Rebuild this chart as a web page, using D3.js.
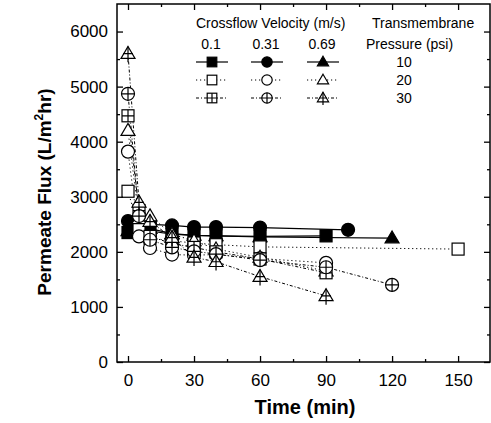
<!DOCTYPE html>
<html lang="en">
    <head>
        <meta charset="utf-8">
        <style>
            body { margin: 0; background: #fff; }
            svg text { font-family: "Liberation Sans", Arial, sans-serif; fill: #000; }
            .tick text { font-size: 17px; }
            .title { font-size: 20px; font-weight: bold; }
            .leg { font-size: 14px; }
        </style>
        <script src="https://d3js.org/d3.v7.min.js"></script>
    </head>
    <body>
        <svg width="491" height="423"></svg>
        <script>
            // Data (time in min, flux in L/m2hr)
            var velocities = ["0.1", "0.31", "0.69"];
            var pressures = ["10", "20", "30"];
            var xTicks = [0, 30, 60, 90, 120, 150];
            var yTicks = [0, 1000, 2000, 3000, 4000, 5000, 6000];

            var tSq10 = [0, 5, 10, 20, 30, 40, 60, 90];
            var vSq10 = [2350, 2400, 2380, 2320, 2300, 2290, 2280, 2290];
            var tCi10 = [0, 5, 10, 20, 30, 40, 60, 100];
            var vCi10 = [2560, 2520, 2500, 2480, 2450, 2450, 2440, 2400];
            var tTr10 = [0, 5, 10, 20, 30, 40, 60, 120];
            var vTr10 = [2380, 2420, 2420, 2330, 2300, 2290, 2270, 2250];

            var tSq20 = [0, 5, 10, 20, 30, 40, 60, 150];
            var vSq20 = [3100, 2420, 2250, 2200, 2160, 2130, 2090, 2050];
            var tCi20 = [0, 5, 10, 20, 30, 40, 60, 90];
            var vCi20 = [3820, 2280, 2070, 1950, 1940, 1950, 1880, 1800];
            var tTr20 = [0, 5, 10, 20, 30, 40, 60, 90];
            var vTr20 = [4200, 2600, 2650, 2320, 2200, 2050, 1900, 1650];

            var tSq30 = [0, 5, 10, 20, 30, 40, 60, 90];
            var vSq30 = [4470, 2750, 2280, 2150, 2080, 2000, 1870, 1620];
            var tCi30 = [0, 5, 10, 20, 30, 40, 60, 90, 120];
            var vCi30 = [4870, 2650, 2220, 2080, 2010, 1960, 1850, 1720, 1400];
            var tTr30 = [0, 5, 10, 20, 30, 40, 60, 90];
            var vTr30 = [5600, 2900, 2550, 2260, 1900, 1820, 1550, 1200];

            var series = [
                {shape: "square", p: 0, t: tSq10, v: vSq10},
                {shape: "circle", p: 0, t: tCi10, v: vCi10},
                {shape: "triangle", p: 0, t: tTr10, v: vTr10},
                {shape: "square", p: 1, t: tSq20, v: vSq20},
                {shape: "circle", p: 1, t: tCi20, v: vCi20},
                {shape: "triangle", p: 1, t: tTr20, v: vTr20},
                {shape: "square", p: 2, t: tSq30, v: vSq30},
                {shape: "circle", p: 2, t: tCi30, v: vCi30},
                {shape: "triangle", p: 2, t: tTr30, v: vTr30}
            ];

            var svg = d3.select("svg");
            var pLeft = 117, pRight = 490, pTop = 4, pBottom = 362;

            var x = d3.scaleLinear().domain([-5, 164.5]).range([pLeft, pRight]);
            var y = d3.scaleLinear().domain([0, 6500]).range([pBottom, pTop]);

            var dashes = [null, "1.2,2.8", "3,2,1,2"];

            // lines
            var line = d3.line().x(function(d) { return x(d[0]); }).y(function(d) { return y(d[1]); });
            series.forEach(function(s) {
                svg.append("path")
                    .datum(s.t.map(function(t, i) { return [t, s.v[i]]; }))
                    .attr("d", line)
                    .attr("fill", "none")
                    .attr("stroke", "#000")
                    .attr("stroke-width", s.p == 0 ? 1.2 : 1)
                    .attr("stroke-dasharray", dashes[s.p]);
            });

            // markers
            function marker(g, shape, p, cx, cy, k) {
                k = k || 1;
                var fill = p == 0 ? "#000" : "#fff";
                var r;
                if (shape == "square") {
                    r = 6 * k;
                    g.append("rect").attr("x", cx - r).attr("y", cy - r).attr("width", 2 * r).attr("height", 2 * r)
                        .attr("fill", fill).attr("stroke", "#000").attr("stroke-width", 1.2);
                    if (p == 2) {
                        g.append("path").attr("d", "M" + (cx - r) + "," + cy + "H" + (cx + r) + "M" + cx + "," + (cy - r) + "V" + (cy + r))
                            .attr("stroke", "#000").attr("stroke-width", 1.2);
                    }
                } else if (shape == "circle") {
                    r = 6.5 * k;
                    g.append("circle").attr("cx", cx).attr("cy", cy).attr("r", r)
                        .attr("fill", fill).attr("stroke", "#000").attr("stroke-width", 1.2);
                    if (p == 2) {
                        g.append("path").attr("d", "M" + (cx - r) + "," + cy + "H" + (cx + r) + "M" + cx + "," + (cy - r) + "V" + (cy + r))
                            .attr("stroke", "#000").attr("stroke-width", 1.2);
                    }
                } else {
                    r = 7 * k;
                    var h = r * 1.7;
                    g.append("path")
                        .attr("d", "M" + cx + "," + (cy - h * 0.6) + "L" + (cx + r) + "," + (cy + h * 0.4) + "L" + (cx - r) + "," + (cy + h * 0.4) + "Z")
                        .attr("fill", fill).attr("stroke", "#000").attr("stroke-width", 1.2);
                    if (p == 2) {
                        g.append("path").attr("d", "M" + (cx - r * 0.7) + "," + cy + "H" + (cx + r * 0.7) +
                                "M" + cx + "," + (cy - h * 0.6) + "V" + (cy + h * 0.4 + 4 * k))
                            .attr("stroke", "#000").attr("stroke-width", 1.2);
                    }
                }
            }

            var mg = svg.append("g");
            series.forEach(function(s) {
                s.t.forEach(function(t, i) {
                    marker(mg, s.shape, s.p, x(t), y(s.v[i]));
                });
            });

            // axes
            var ax = svg.append("g");
            var minorX = d3.range(15, 165, 30);
            var minorY = d3.range(500, 6500, 1000);
            ax.append("g").attr("transform", "translate(0," + pBottom + ")")
                .call(d3.axisBottom(x).tickValues(xTicks).tickSize(-6).tickPadding(12).tickFormat(d3.format("d")));
            ax.append("g").attr("transform", "translate(0," + pBottom + ")")
                .call(d3.axisBottom(x).tickValues(minorX).tickSize(-3).tickFormat(""));
            ax.append("g").attr("transform", "translate(0," + pTop + ")")
                .call(d3.axisTop(x).tickValues(xTicks).tickSize(-6).tickFormat(""));
            ax.append("g").attr("transform", "translate(0," + pTop + ")")
                .call(d3.axisTop(x).tickValues(minorX).tickSize(-3).tickFormat(""));
            ax.append("g").attr("transform", "translate(" + pLeft + ",0)")
                .call(d3.axisLeft(y).tickValues(yTicks).tickSize(-6).tickPadding(9).tickFormat(d3.format("d")));
            ax.append("g").attr("transform", "translate(" + pLeft + ",0)")
                .call(d3.axisLeft(y).tickValues(minorY).tickSize(-3).tickFormat(""));
            ax.append("g").attr("transform", "translate(" + pRight + ",0)")
                .call(d3.axisRight(y).tickValues(yTicks).tickSize(-6).tickFormat(""));
            ax.append("g").attr("transform", "translate(" + pRight + ",0)")
                .call(d3.axisRight(y).tickValues(minorY).tickSize(-3).tickFormat(""));
            ax.selectAll(".domain").remove();
            ax.selectAll(".tick line").attr("stroke", "#000").attr("stroke-width", 1.3);
            ax.append("rect").attr("x", pLeft).attr("y", pTop).attr("width", pRight - pLeft).attr("height", pBottom - pTop)
                .attr("fill", "none").attr("stroke", "#000").attr("stroke-width", 1.5);

            // titles
            svg.append("text").attr("class", "title").attr("text-anchor", "middle")
                .style("font-size", "19px")
                .attr("transform", "translate(51,192) rotate(-90)")
                .html("Permeate Flux (L/m<tspan font-size='12' dy='-8'>2</tspan><tspan dy='8'>hr)</tspan>");
            svg.append("text").attr("class", "title").attr("text-anchor", "middle")
                .attr("x", 305).attr("y", 414).text("Time (min)");

            // legend
            var lg = svg.append("g");
            lg.append("text").attr("class", "leg").attr("x", 196).attr("y", 28).text("Crossflow Velocity (m/s)");
            lg.append("text").attr("class", "leg").attr("x", 372).attr("y", 28).text("Transmembrane");
            lg.append("text").attr("class", "leg").attr("x", 366).attr("y", 49).text("Pressure (psi)");
            var legX = [212, 267, 323];
            var legY = [62, 80, 98];
            var shapes = ["square", "circle", "triangle"];
            velocities.forEach(function(v, i) {
                lg.append("text").attr("class", "leg").attr("text-anchor", "middle")
                    .attr("x", legX[i] - 1).attr("y", 49).text(v);
            });
            pressures.forEach(function(p, j) {
                lg.append("text").attr("class", "leg").attr("text-anchor", "middle")
                    .attr("x", 404).attr("y", legY[j] + 5).text(p);
                shapes.forEach(function(sh, i) {
                    lg.append("line").attr("x1", legX[i] - 16).attr("x2", legX[i] + 16)
                        .attr("y1", legY[j]).attr("y2", legY[j])
                        .attr("stroke", "#000").attr("stroke-width", j == 0 ? 1.2 : 1)
                        .attr("stroke-dasharray", dashes[j]);
                    marker(lg.append("g"), sh, j, legX[i], legY[j], 0.8);
                });
            });
        </script>
    </body>
</html>
